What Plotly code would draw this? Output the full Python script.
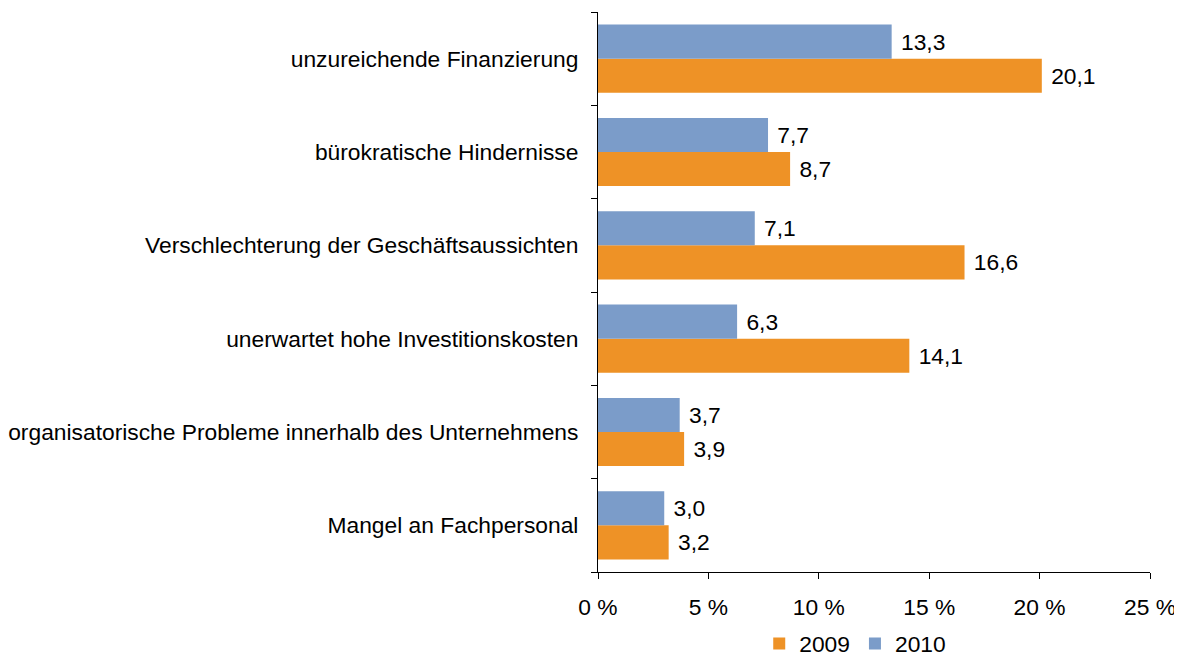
import plotly.graph_objects as go

categories = [
    "unzureichende Finanzierung",
    "bürokratische Hindernisse",
    "Verschlechterung der Geschäftsaussichten",
    "unerwartet hohe Investitionskosten",
    "organisatorische Probleme innerhalb des Unternehmens",
    "Mangel an Fachpersonal",
]
values_2009 = [20.1, 8.7, 16.6, 14.1, 3.9, 3.2]
values_2010 = [13.3, 7.7, 7.1, 6.3, 3.7, 3.0]
x_ticks = [0, 5, 10, 15, 20, 25]
x_tick_labels = ["0 %", "5 %", "10 %", "15 %", "20 %", "25 %"]


def fmt(v):
    return " " + f"{v:.1f}".replace(".", ",")


FONT = "Liberation Sans, Arial, sans-serif"
FS = 22.8
fig = go.Figure()
fig.add_trace(go.Bar(
    y=categories, x=values_2009, orientation="h", name="2009",
    marker=dict(color="#EE9226", line=dict(width=0)),
    text=[fmt(v) for v in values_2009], textposition="outside",
    textfont=dict(size=FS, color="black", family=FONT), cliponaxis=False,
))
fig.add_trace(go.Bar(
    y=categories, x=values_2010, orientation="h", name="2010",
    marker=dict(color="#7B9CC9", line=dict(width=0)),
    text=[fmt(v) for v in values_2010], textposition="outside",
    textfont=dict(size=FS, color="black", family=FONT), cliponaxis=False,
))

fig.update_layout(
    width=1174, height=650,
    margin=dict(l=590, r=32, t=4, b=86, autoexpand=False),
    paper_bgcolor="white", plot_bgcolor="white",
    barmode="group", bargap=0.27, bargroupgap=0,
    font=dict(family=FONT, size=FS, color="black"),
    showlegend=True,
    legend=dict(orientation="h", x=0.466, y=-0.128, xanchor="center", yanchor="middle",
                font=dict(size=FS, color="black"), itemwidth=30, tracegroupgap=0),
)
fig.update_xaxes(
    range=[0, 25], tickvals=x_ticks, ticktext=x_tick_labels, automargin=False,
    showgrid=False, zeroline=False, showline=True, linecolor="black", linewidth=1,
    ticks="outside", ticklen=6, tickcolor="black", tickwidth=1,
    tickfont=dict(size=FS, color="black"), ticklabelstandoff=9,
)
fig.update_yaxes(
    categoryorder="array", categoryarray=categories[::-1], automargin=False,
    showgrid=False, showline=True, linecolor="black", linewidth=1,
    ticks="outside", ticklen=6, tickcolor="black", tickwidth=1, tickson="boundaries",
    tickfont=dict(size=FS, color="black"), ticklabelstandoff=14,
)

fig.write_html("out.html")
